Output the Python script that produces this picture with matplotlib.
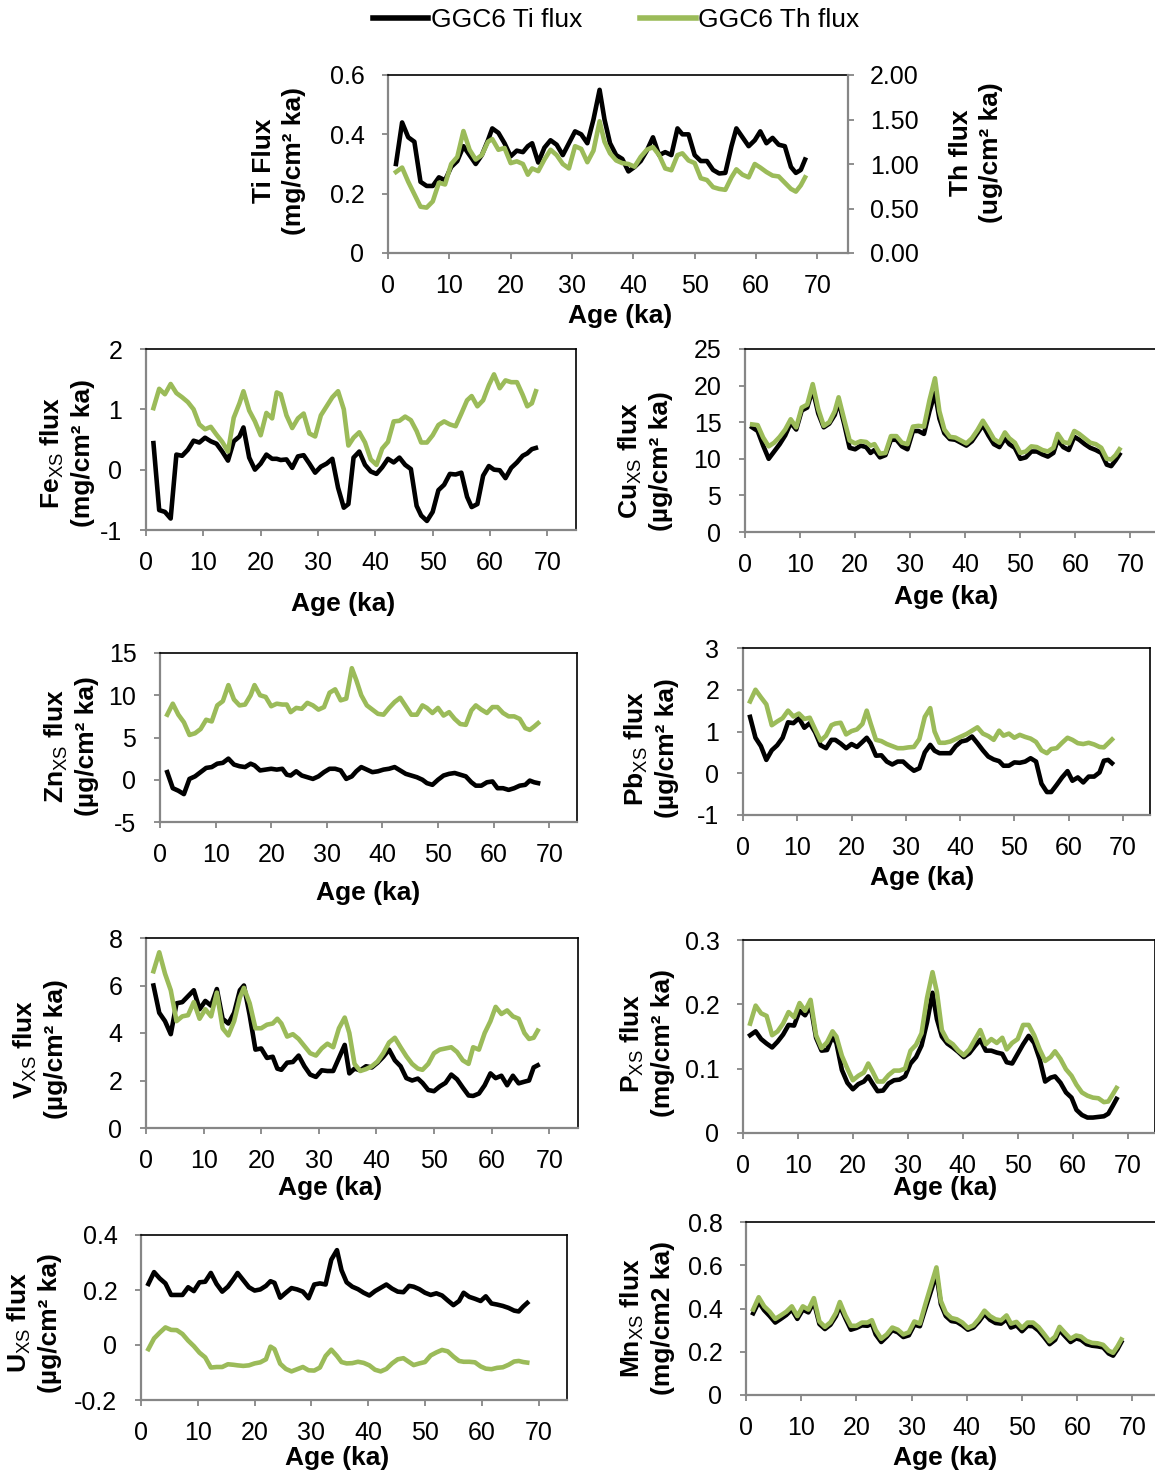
import matplotlib
matplotlib.use("Agg")
import matplotlib.pyplot as plt
from matplotlib.ticker import MultipleLocator, FuncFormatter
from matplotlib.lines import Line2D

plt.rcParams['font.family'] = ['Liberation Sans', 'DejaVu Sans']
plt.rcParams['mathtext.fontset'] = 'custom'
plt.rcParams['mathtext.rm'] = 'Liberation Sans'
plt.rcParams['mathtext.it'] = 'Liberation Sans:italic'
plt.rcParams['mathtext.bf'] = 'Liberation Sans:bold'
plt.rcParams['axes.unicode_minus'] = False

# ---------------- data ----------------
age = [1.3, 2.3, 3.3, 4.3, 5.3, 6.3, 7.3, 8.3, 9.3, 10.3,
       11.3, 12.3, 13.3, 14.3, 15.3, 16.3, 17.0, 18.0, 19.0, 20.0,
       21.0, 22.0, 22.8, 23.5, 24.5, 25.5, 26.5, 27.5, 28.5, 29.5,
       30.5, 31.5, 32.5, 33.5, 34.5, 35.3, 36.2, 37.2, 38.2, 39.2,
       40.2, 41.2, 42.2, 43.2, 44.2, 45.2, 46.2, 47.2, 48.0, 49.0,
       50.0, 51.0, 52.0, 53.0, 54.0, 55.0, 56.0, 56.8, 57.8, 58.8,
       59.8, 60.7, 61.7, 62.7, 63.7, 64.7, 65.7, 66.5, 67.3, 68.0]

ti_flux = [0.30, 0.44, 0.39, 0.375, 0.24, 0.226, 0.226, 0.255, 0.245, 0.29,
           0.31, 0.36, 0.33, 0.30, 0.33, 0.38, 0.42, 0.405, 0.37, 0.326,
           0.345, 0.34, 0.36, 0.37, 0.305, 0.355, 0.38, 0.365, 0.33, 0.37,
           0.41, 0.40, 0.37, 0.45, 0.55, 0.45, 0.37, 0.33, 0.317, 0.275,
           0.29, 0.31, 0.345, 0.39, 0.33, 0.34, 0.33, 0.42, 0.40, 0.40,
           0.33, 0.31, 0.31, 0.28, 0.268, 0.27, 0.36, 0.42, 0.39, 0.36,
           0.38, 0.41, 0.37, 0.388, 0.365, 0.36, 0.29, 0.27, 0.28, 0.315]
th_flux = [0.91, 0.96, 0.80, 0.66, 0.52, 0.51, 0.58, 0.79, 0.77, 1.00,
           1.08, 1.37, 1.16, 1.05, 1.10, 1.25, 1.28, 1.16, 1.18, 1.01,
           1.03, 1.00, 0.88, 0.95, 0.92, 1.05, 1.16, 1.10, 1.00, 0.95,
           1.20, 1.17, 1.02, 1.15, 1.48, 1.25, 1.12, 1.04, 1.01, 1.00,
           0.97, 1.08, 1.16, 1.19, 1.10, 0.95, 0.93, 1.10, 1.12, 1.04,
           1.01, 0.84, 0.82, 0.74, 0.72, 0.71, 0.85, 0.94, 0.88, 0.85,
           1.00, 0.96, 0.91, 0.87, 0.86, 0.79, 0.72, 0.69, 0.76, 0.85]

fe_ti = [0.44, -0.67, -0.70, -0.81, 0.25, 0.23, 0.33, 0.48, 0.45, 0.53,
         0.47, 0.43, 0.30, 0.15, 0.47, 0.55, 0.70, 0.20, 0.00, 0.10,
         0.25, 0.18, 0.18, 0.16, 0.17, 0.03, 0.22, 0.24, 0.10, -0.05,
         0.05, 0.10, 0.18, -0.30, -0.63, -0.57, 0.20, 0.30, 0.08, -0.03,
         -0.07, 0.04, 0.18, 0.12, 0.20, 0.08, 0.01, -0.60, -0.76, -0.85,
         -0.70, -0.34, -0.25, -0.07, -0.08, -0.05, -0.45, -0.62, -0.57, -0.10,
         0.06, 0.00, -0.01, -0.14, 0.03, 0.12, 0.23, 0.27, 0.34, 0.36]
fe_th = [1.02, 1.34, 1.25, 1.42, 1.27, 1.20, 1.12, 1.00, 0.75, 0.67,
         0.71, 0.58, 0.46, 0.30, 0.86, 1.10, 1.30, 0.98, 0.80, 0.57,
         0.94, 0.85, 1.28, 1.25, 0.90, 0.69, 0.85, 0.93, 0.60, 0.55,
         0.90, 1.05, 1.20, 1.30, 1.00, 0.40, 0.53, 0.62, 0.45, 0.17,
         0.08, 0.35, 0.46, 0.80, 0.81, 0.88, 0.82, 0.64, 0.45, 0.45,
         0.57, 0.74, 0.80, 0.75, 0.72, 0.93, 1.15, 1.22, 1.05, 1.15,
         1.40, 1.58, 1.35, 1.48, 1.45, 1.45, 1.24, 1.05, 1.10, 1.30]

cu_ti = [14.3, 13.8, 11.8, 10.0, 11.0, 12.0, 13.2, 14.9, 14.0, 16.6,
         17.0, 19.5, 16.2, 14.3, 14.8, 16.0, 17.8, 14.8, 11.5, 11.3,
         11.8, 11.6, 10.8, 11.2, 10.2, 10.5, 12.6, 12.6, 11.7, 11.3,
         13.8, 13.8, 13.4, 16.5, 19.0, 15.5, 13.5, 12.7, 12.6, 12.2,
         11.8, 12.4, 13.5, 14.6, 13.2, 12.0, 11.6, 12.8, 12.0, 11.5,
         10.0, 10.2, 11.0, 11.0, 10.6, 10.3, 10.8, 12.6, 11.6, 11.2,
         13.0, 12.6, 12.0, 11.5, 11.2, 10.8, 9.2, 9.0, 9.8, 10.6]
cu_th = [14.7, 14.6, 12.9, 11.7, 12.2, 13.0, 14.0, 15.4, 14.3, 17.0,
         17.4, 20.2, 16.8, 14.5, 15.0, 16.5, 18.4, 15.4, 12.5, 12.1,
         12.4, 12.3, 11.8, 12.0, 10.7, 10.8, 13.1, 13.1, 12.2, 12.0,
         14.4, 14.5, 14.4, 18.0, 21.0, 16.5, 14.0, 13.0, 12.9, 12.5,
         12.1, 12.8, 13.9, 15.2, 14.0, 12.7, 12.2, 13.6, 12.8, 12.2,
         10.8, 11.0, 11.7, 11.6, 11.2, 11.0, 11.5, 13.4, 12.3, 12.1,
         13.8, 13.4, 12.8, 12.2, 12.0, 11.5, 10.0, 9.9, 10.5, 11.3]

zn_ti = [0.9, -1.0, -1.3, -1.7, 0.1, 0.4, 0.9, 1.4, 1.5, 1.9,
         2.0, 2.5, 1.8, 1.6, 1.5, 1.9, 1.7, 1.1, 1.2, 1.3,
         1.2, 1.3, 0.6, 0.5, 1.0, 0.5, 0.3, 0.1, 0.4, 0.9,
         1.3, 1.3, 1.1, 0.1, 0.4, 1.0, 1.5, 1.2, 0.9, 1.0,
         1.2, 1.3, 1.5, 1.1, 0.7, 0.5, 0.3, 0.0, -0.4, -0.6,
         0.0, 0.5, 0.7, 0.8, 0.6, 0.4, -0.3, -0.7, -0.7, -0.3,
         -0.2, -1.0, -1.0, -1.2, -1.0, -0.7, -0.6, -0.1, -0.3, -0.4]
zn_th = [7.7, 9.0, 7.7, 6.8, 5.3, 5.5, 6.0, 7.1, 6.9, 8.8,
         9.3, 11.2, 9.5, 8.8, 8.9, 10.0, 11.2, 10.0, 9.8, 8.7,
         9.0, 8.9, 8.9, 8.0, 8.5, 8.4, 9.1, 8.8, 8.3, 8.6,
         10.3, 10.7, 9.4, 9.6, 13.2, 11.8, 10.0, 8.8, 8.3, 7.8,
         7.7, 8.5, 9.2, 9.7, 8.7, 7.7, 7.7, 8.8, 8.5, 7.9,
         8.5, 7.6, 8.0, 7.2, 6.6, 6.5, 8.2, 8.8, 8.3, 7.9,
         8.6, 8.6, 7.9, 7.5, 7.5, 7.2, 6.1, 5.9, 6.3, 6.7]

pb_ti = [1.35, 0.85, 0.65, 0.32, 0.55, 0.67, 0.85, 1.22, 1.20, 1.32,
         1.09, 1.20, 0.98, 0.67, 0.60, 0.80, 0.80, 0.71, 0.60, 0.70,
         0.63, 0.75, 0.85, 0.72, 0.42, 0.43, 0.28, 0.21, 0.28, 0.28,
         0.16, 0.06, 0.12, 0.50, 0.68, 0.54, 0.48, 0.48, 0.48, 0.65,
         0.76, 0.79, 0.88, 0.72, 0.55, 0.40, 0.33, 0.29, 0.18, 0.18,
         0.26, 0.25, 0.28, 0.36, 0.28, -0.25, -0.45, -0.45, -0.28, -0.10,
         0.05, -0.18, -0.10, -0.22, -0.08, -0.08, 0.02, 0.30, 0.32, 0.24]
pb_th = [1.72, 2.00, 1.82, 1.65, 1.15, 1.24, 1.32, 1.50, 1.36, 1.43,
         1.30, 1.33, 1.05, 0.78, 0.90, 1.15, 1.19, 1.21, 0.93, 1.01,
         1.05, 1.18, 1.50, 1.20, 0.80, 0.77, 0.70, 0.65, 0.60, 0.60,
         0.62, 0.63, 0.82, 1.35, 1.56, 1.00, 0.73, 0.73, 0.76, 0.82,
         0.88, 0.94, 1.02, 1.10, 0.95, 0.89, 0.80, 1.02, 0.90, 0.95,
         0.85, 0.92, 0.87, 0.83, 0.75, 0.55, 0.48, 0.58, 0.60, 0.73,
         0.85, 0.80, 0.72, 0.70, 0.73, 0.69, 0.63, 0.62, 0.72, 0.81]

v_ti = [6.0, 4.85, 4.5, 3.95, 5.25, 5.3, 5.55, 5.8, 5.0, 5.35,
        5.15, 5.85, 4.6, 4.4, 4.85, 5.8, 6.0, 4.75, 3.3, 3.35,
        2.95, 3.0, 2.5, 2.45, 2.75, 2.78, 3.05, 2.6, 2.25, 2.15,
        2.43, 2.4, 2.4, 2.95, 3.5, 2.3, 2.5, 2.43, 2.6, 2.55,
        2.75, 3.0, 3.3, 2.85, 2.6, 2.1, 2.0, 2.08, 1.9, 1.6,
        1.55, 1.75, 1.9, 2.25, 2.05, 1.7, 1.37, 1.35, 1.45, 1.8,
        2.3, 2.1, 2.2, 1.8, 2.2, 1.88, 1.95, 2.0, 2.55, 2.64]
v_th = [6.6, 7.4, 6.5, 5.8, 4.5, 4.7, 4.75, 5.3, 4.6, 5.0,
        4.7, 5.7, 4.2, 3.9, 4.5, 5.5, 5.9, 5.25, 4.2, 4.2,
        4.35, 4.4, 4.6, 4.4, 3.85, 3.95, 3.75, 3.45, 3.15, 3.05,
        3.35, 3.55, 3.4, 4.2, 4.65, 4.0, 2.7, 2.4, 2.48, 2.6,
        2.8, 3.15, 3.6, 3.8, 3.4, 3.02, 2.7, 2.5, 2.45, 2.7,
        3.15, 3.3, 3.35, 3.4, 3.2, 2.85, 2.7, 3.4, 3.3, 4.0,
        4.5, 5.1, 4.8, 4.95, 4.7, 4.6, 4.0, 3.75, 3.8, 4.1]

p_ti = [0.152, 0.158, 0.146, 0.139, 0.133, 0.142, 0.153, 0.168, 0.167, 0.190,
        0.183, 0.198, 0.148, 0.128, 0.129, 0.150, 0.140, 0.098, 0.078, 0.068,
        0.076, 0.080, 0.088, 0.078, 0.065, 0.066, 0.077, 0.082, 0.083, 0.088,
        0.108, 0.118, 0.136, 0.172, 0.218, 0.177, 0.150, 0.139, 0.133, 0.126,
        0.118, 0.124, 0.135, 0.145, 0.128, 0.128, 0.125, 0.123, 0.110, 0.108,
        0.123, 0.138, 0.151, 0.140, 0.115, 0.080, 0.086, 0.088, 0.078, 0.063,
        0.055, 0.036, 0.028, 0.024, 0.024, 0.025, 0.026, 0.030, 0.042, 0.053]
p_th = [0.170, 0.198, 0.186, 0.182, 0.152, 0.158, 0.170, 0.188, 0.180, 0.202,
        0.190, 0.207, 0.152, 0.132, 0.141, 0.158, 0.150, 0.120, 0.100, 0.082,
        0.089, 0.094, 0.108, 0.097, 0.080, 0.080, 0.090, 0.097, 0.097, 0.100,
        0.128, 0.137, 0.155, 0.210, 0.250, 0.219, 0.160, 0.144, 0.138, 0.128,
        0.121, 0.130, 0.145, 0.160, 0.138, 0.146, 0.140, 0.148, 0.130, 0.140,
        0.146, 0.168, 0.168, 0.152, 0.130, 0.112, 0.118, 0.127, 0.115, 0.099,
        0.089, 0.075, 0.063, 0.058, 0.055, 0.054, 0.048, 0.049, 0.060, 0.070]

u_ti = [0.222, 0.265, 0.242, 0.224, 0.182, 0.182, 0.182, 0.210, 0.196, 0.228,
        0.230, 0.262, 0.222, 0.194, 0.212, 0.240, 0.262, 0.236, 0.210, 0.198,
        0.202, 0.215, 0.232, 0.226, 0.172, 0.190, 0.207, 0.202, 0.194, 0.170,
        0.220, 0.224, 0.220, 0.310, 0.345, 0.272, 0.228, 0.212, 0.203, 0.190,
        0.180, 0.196, 0.208, 0.220, 0.205, 0.194, 0.192, 0.215, 0.212, 0.203,
        0.190, 0.182, 0.188, 0.180, 0.162, 0.145, 0.160, 0.190, 0.175, 0.168,
        0.160, 0.177, 0.151, 0.147, 0.142, 0.135, 0.125, 0.122, 0.140, 0.153]
u_th = [-0.015, 0.024, 0.045, 0.064, 0.055, 0.054, 0.040, 0.016, -0.004, -0.028,
        -0.045, -0.082, -0.080, -0.080, -0.070, -0.072, -0.074, -0.076, -0.074, -0.067,
        -0.063, -0.052, -0.006, -0.015, -0.068, -0.087, -0.096, -0.088, -0.080, -0.092,
        -0.093, -0.082, -0.040, -0.017, -0.040, -0.062, -0.067, -0.066, -0.061, -0.065,
        -0.074, -0.090, -0.096, -0.087, -0.067, -0.052, -0.048, -0.062, -0.073, -0.067,
        -0.062, -0.038, -0.027, -0.018, -0.023, -0.042, -0.058, -0.061, -0.061, -0.063,
        -0.078, -0.086, -0.088, -0.083, -0.081, -0.072, -0.060, -0.058, -0.062, -0.064]

mn_ti = [0.378, 0.430, 0.392, 0.365, 0.335, 0.352, 0.370, 0.395, 0.352, 0.395,
         0.382, 0.430, 0.328, 0.305, 0.325, 0.365, 0.412, 0.355, 0.302, 0.310,
         0.322, 0.320, 0.330, 0.280, 0.245, 0.270, 0.300, 0.290, 0.268, 0.276,
         0.325, 0.318, 0.400, 0.480, 0.560, 0.420, 0.365, 0.342, 0.338, 0.322,
         0.302, 0.312, 0.340, 0.375, 0.348, 0.333, 0.330, 0.350, 0.312, 0.322,
         0.295, 0.320, 0.318, 0.298, 0.268, 0.235, 0.255, 0.300, 0.272, 0.245,
         0.262, 0.255, 0.235, 0.228, 0.225, 0.220, 0.192, 0.182, 0.212, 0.245]
mn_th = [0.395, 0.452, 0.410, 0.385, 0.352, 0.368, 0.385, 0.410, 0.365, 0.410,
         0.395, 0.448, 0.340, 0.315, 0.336, 0.380, 0.430, 0.368, 0.320, 0.320,
         0.335, 0.335, 0.346, 0.300, 0.260, 0.280, 0.312, 0.302, 0.280, 0.290,
         0.340, 0.330, 0.420, 0.505, 0.590, 0.435, 0.380, 0.356, 0.350, 0.335,
         0.310, 0.322, 0.352, 0.390, 0.365, 0.350, 0.345, 0.368, 0.330, 0.338,
         0.310, 0.335, 0.335, 0.314, 0.282, 0.248, 0.270, 0.315, 0.287, 0.260,
         0.275, 0.270, 0.250, 0.241, 0.239, 0.232, 0.205, 0.195, 0.225, 0.257]

x_ticks = [0, 10, 20, 30, 40, 50, 60, 70]
legend_labels = ["GGC6 Ti flux", "GGC6 Th flux"]

# ---------------- style ----------------
W, H = 1155, 1474
BLACK = "#000000"
GREEN = "#9BBB59"
GRAY = "#868686"
LW = 3.3
TICK_FS = 18
LABEL_FS = 19

fig = plt.figure(figsize=(W / 100, H / 100), dpi=100)


def add_axes(l, r, t, b):
    return fig.add_axes([l / W, 1 - b / H, (r - l) / W, (b - t) / H])


def style(ax, ylim, ystep, fmt=None):
    ax.set_xlim(0, 75)
    ax.set_xticks(x_ticks)
    ax.set_ylim(*ylim)
    ax.yaxis.set_major_locator(MultipleLocator(ystep))
    ax.yaxis.set_major_formatter(FuncFormatter(fmt or (lambda v, p: f"{v:g}")))
    for s in ("left", "bottom"):
        ax.spines[s].set_color(GRAY)
        ax.spines[s].set_linewidth(1.6)
    for s in ("top", "right"):
        ax.spines[s].set_color(BLACK)
        ax.spines[s].set_linewidth(1.2)
    ax.tick_params(axis="both", direction="out", length=4, width=1.3,
                   color=GRAY, labelsize=TICK_FS)
    ax.tick_params(axis="x", pad=11)
    ax.tick_params(axis="y", pad=13)


def label(x, y, s, rot=90):
    fig.text(x / W, 1 - y / H, s, rotation=rot, ha="center", va="center",
             fontsize=LABEL_FS, fontweight="bold", multialignment="center",
             linespacing=1.3)


def xlabel(x, y):
    fig.text(x / W, 1 - y / H, "Age (ka)", ha="center", va="center",
             fontsize=LABEL_FS, fontweight="bold")


# ---- Panel 1: Ti / Th flux (twin axes) ----
ax = add_axes(388, 848, 75, 253)
style(ax, (0, 0.6), 0.2)
ax.spines["right"].set_visible(False)
ax.plot(age, ti_flux, color=BLACK, lw=LW, solid_joinstyle="round")
ax2 = ax.twinx()
ax2.set_ylim(0, 2.0)
ax2.yaxis.set_major_locator(MultipleLocator(0.5))
ax2.yaxis.set_major_formatter(FuncFormatter(lambda v, p: f"{v:.2f}"))
for s in ("left", "top", "bottom"):
    ax2.spines[s].set_visible(False)
ax2.spines["right"].set_color(GRAY)
ax2.spines["right"].set_linewidth(1.6)
ax2.tick_params(axis="y", direction="out", length=4, width=1.3, color=GRAY,
                labelsize=TICK_FS, pad=12)
ax2.plot(age, th_flux, color=GREEN, lw=LW, solid_joinstyle="round")
label(279, 161, "Ti Flux\n(mg/cm² ka)")
label(976, 153, "Th flux\n(ug/cm² ka)")
xlabel(620, 316)

# ---- other panels ----
panels = [
    # (black, green, ylim, step, (l, r, t, b), ylabel, (lx, ly), (ax_x, ax_y))
    (fe_ti, fe_th, (-1, 2), 1, (146, 576, 349, 530),
     "Fe$_{\\mathrm{XS}}$ flux\n(mg/cm² ka)", (67, 453), (343, 604)),
    (cu_ti, cu_th, (0, 25), 5, (745, 1158, 349, 532),
     "Cu$_{\\mathrm{XS}}$ flux\n(µg/cm² ka)", (645, 461), (946, 597)),
    (zn_ti, zn_th, (-5, 15), 5, (160, 577, 653, 822),
     "Zn$_{\\mathrm{XS}}$ flux\n(µg/cm² ka)", (71, 746), (368, 893)),
    (pb_ti, pb_th, (-1, 3), 1, (743, 1150, 648, 815),
     "Pb$_{\\mathrm{XS}}$ flux\n(µg/cm² ka)", (651, 748), (922, 878)),
    (v_ti, v_th, (0, 8), 2, (146, 578, 938, 1128),
     "V$_{\\mathrm{XS}}$ flux\n(µg/cm² ka)", (40, 1049), (330, 1188)),
    (p_ti, p_th, (0, 0.3), 0.1, (743, 1155, 940, 1133),
     "P$_{\\mathrm{XS}}$ flux\n(mg/cm² ka)", (647, 1043), (945, 1188)),
    (u_ti, u_th, (-0.2, 0.4), 0.2, (141, 567, 1235, 1400),
     "U$_{\\mathrm{XS}}$ flux\n(µg/cm² ka)", (34, 1323), (337, 1458)),
    (mn_ti, mn_th, (0, 0.8), 0.2, (746, 1160, 1222, 1395),
     "Mn$_{\\mathrm{XS}}$ flux\n(mg/cm2 ka)", (647, 1318), (945, 1458)),
]

for blk, grn, ylim, step, box, ylab, lpos, xpos in panels:
    a = add_axes(*box)
    style(a, ylim, step)
    a.plot(age, blk, color=BLACK, lw=LW, solid_joinstyle="round", zorder=3)
    a.plot(age, grn, color=GREEN, lw=LW, solid_joinstyle="round", zorder=4)
    label(lpos[0], lpos[1], ylab)
    xlabel(*xpos)

# ---- legend ----
handles = [Line2D([], [], color=BLACK, lw=4), Line2D([], [], color=GREEN, lw=4)]
fig.legend(handles, legend_labels, loc="center", bbox_to_anchor=(616 / W, 1 - 20 / H),
           ncol=2, frameon=False, fontsize=19, handlelength=2.1,
           handletextpad=0.1, columnspacing=2.2)

fig.savefig("out.png", dpi=100)
